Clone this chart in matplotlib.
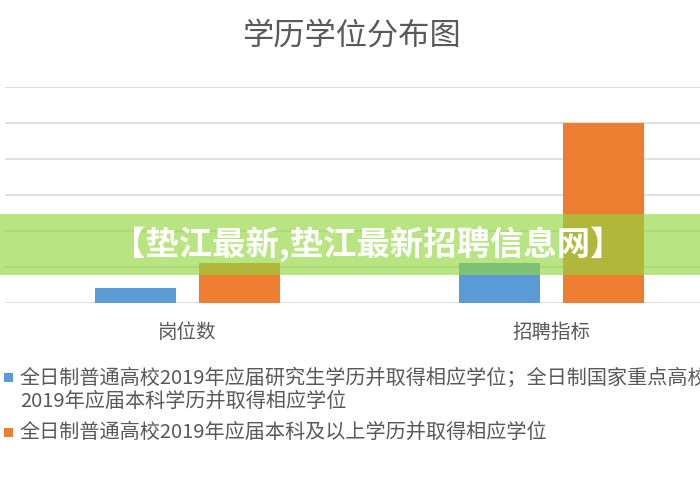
import matplotlib
matplotlib.use("Agg")
import matplotlib.pyplot as plt
from matplotlib.patches import Rectangle

plt.rcParams['font.family'] = ['Noto Sans CJK SC', 'DejaVu Sans']

# 数据
categories = ["岗位数", "招聘指标"]
series_names = [
    "全日制普通高校2019年应届研究生学历并取得相应学位；全日制国家重点高校\n2019年应届本科学历并取得相应学位",
    "全日制普通高校2019年应届本科及以上学历并取得相应学位",
]
blue_vals = [4.2, 11]
orange_vals = [11, 50]
y_ticks = [0, 10, 20, 30, 40, 50, 60]

BLUE = "#5b9bd5"
ORANGE = "#ed7d31"
GRAY = "#595959"

fig = plt.figure(figsize=(7, 4.9), dpi=100)
W, H = 700, 490

ax = fig.add_axes([5 / W, 1 - 303 / H, 729 / W, 216 / H])
x = list(range(len(categories)))
bw = 0.222
off = 0.143
ax.bar([i - off for i in x], blue_vals, width=bw, color=BLUE, zorder=3)
ax.bar([i + off for i in x], orange_vals, width=bw, color=ORANGE, zorder=3)

ax.set_xlim(-0.5, 1.5)
ax.set_ylim(0, 60)
ax.set_yticks(y_ticks)
ax.yaxis.grid(True, color="#d9d9d9", linewidth=1.2, zorder=0)
ax.tick_params(axis="y", left=False, labelleft=False)
ax.set_xticks(x)
ax.set_xticklabels(categories, fontsize=14, color=GRAY)
ax.tick_params(axis="x", bottom=False, pad=10)
for s in ax.spines.values():
    s.set_visible(False)

fig.text(351 / W, 1 - 36 / H, "学历学位分布图", fontsize=22.5, color=GRAY,
         ha="center", va="center")

# 图例
fig.patches.append(Rectangle((4 / W, 1 - 382 / H), 9 / W, 9 / H, facecolor=BLUE,
                             linewidth=0, transform=fig.transFigure, figure=fig))
fig.text(20 / W, 1 - 390 / H, series_names[0], fontsize=14.5, color=GRAY,
         ha="left", va="center", linespacing=1.15)
fig.patches.append(Rectangle((4 / W, 1 - 437 / H), 9 / W, 9 / H, facecolor=ORANGE,
                             linewidth=0, transform=fig.transFigure, figure=fig))
fig.text(20 / W, 1 - 432 / H, series_names[1], fontsize=14.5, color=GRAY,
         ha="left", va="center")

# 横幅
fig.patches.append(Rectangle((0, 1 - 275 / H), 1, 61 / H, facecolor="#92d73f",
                             linewidth=0, alpha=0.65, transform=fig.transFigure,
                             figure=fig, zorder=10))
fig.text(368 / W, 1 - 244 / H, "【垫江最新,垫江最新招聘信息网】", fontsize=24,
         fontweight="bold", color="white", ha="center", va="center", zorder=11)

fig.savefig("out.png", dpi=100)
